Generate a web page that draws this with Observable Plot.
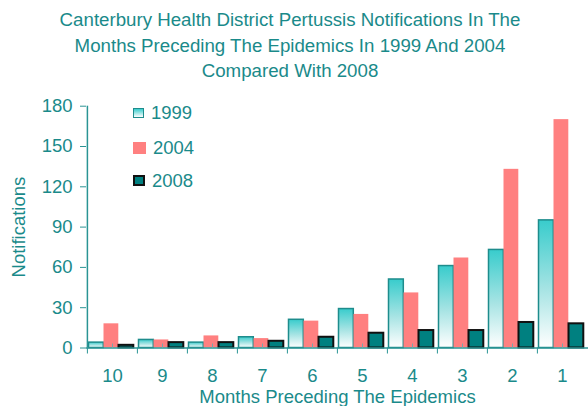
<!DOCTYPE html>
<html><head><meta charset="utf-8">
<script src="https://cdn.jsdelivr.net/npm/d3@7"></script>
<script src="https://cdn.jsdelivr.net/npm/@observablehq/plot@0.6"></script>
<style>
body{margin:0;background:#fff;font-family:"Liberation Sans",Arial,sans-serif;color:#1a8a8a;}
#wrap{position:relative;width:588px;height:406px;overflow:hidden;}
#title{height:88px;box-sizing:border-box;padding-top:7px;text-align:center;font-size:18.7px;line-height:25.7px;width:580px;}
.lg{position:absolute;left:133px;height:34px;display:flex;align-items:center;font-size:18.5px;}
.sw{box-sizing:border-box;margin-right:7px;}
</style>
</head><body>
<div id="wrap">
  <div id="title"></div>
  <div id="chart"></div>
  <div id="legend"></div>
</div>
<script>
const titleLines = ["Canterbury Health District Pertussis Notifications In The", "Months Preceding The Epidemics In 1999 And 2004", "Compared With 2008"];
const months = ["10", "9", "8", "7", "6", "5", "4", "3", "2", "1"];
const series = ["1999", "2004", "2008"];
const v1999 = [4, 6, 4, 8, 21, 29, 51, 61, 73, 95];
const v2004 = [18, 6, 9, 7, 20, 25, 41, 67, 133, 170];
const v2008 = [2, 4, 4, 5, 8, 11, 13, 13, 19, 18];
const yTicks = [0, 30, 60, 90, 120, 150, 180];
const xLabel = "Months Preceding The Epidemics";
const yLabel = "Notifications";

const teal = "#1a8a8a";
const axisColor = "#2a9494";

document.getElementById("title").innerHTML = titleLines.map(t => `<div>${t}</div>`).join("");

const rows = months.map((m, i) => ({month: m, v1999: v1999[i], v2004: v2004[i], v2008: v2008[i]}));

const W = 588, ML = 86, MR = 0;
const bw = (W - ML - MR) / months.length;
const barW = 15;
function insets(i) {
  const left = 1.5 + i * barW;
  return {insetLeft: left, insetRight: bw - left - barW};
}

const defs = () => {
  const d = d3.create("svg:defs");
  const g = d.append("linearGradient").attr("id", "g1999").attr("x1", 0).attr("y1", 0).attr("x2", 0).attr("y2", 1);
  g.append("stop").attr("offset", "0%").attr("stop-color", "#38cccc");
  g.append("stop").attr("offset", "55%").attr("stop-color", "#a8e4e4");
  g.append("stop").attr("offset", "100%").attr("stop-color", "#ffffff");
  return d.node();
};

const chart = Plot.plot({
  width: W,
  height: 318,
  marginLeft: ML,
  marginRight: MR,
  marginTop: 17.7,
  marginBottom: 58.5,
  style: {fontFamily: "'Liberation Sans', Arial, sans-serif", color: teal, background: "#fff"},
  x: {domain: months, padding: 0},
  y: {domain: [0, 180]},
  marks: [
    defs,
    Plot.barY(rows, {x: "month", y: "v1999", fill: "url(#g1999)", stroke: "#1e8c8c", strokeWidth: 1.5, ...insets(0)}),
    Plot.barY(rows, {x: "month", y: "v2004", fill: "#ff8080", ...insets(1)}),
    Plot.barY(rows, {x: "month", y: "v2008", fill: "#008080", stroke: "#111", strokeWidth: 2, ...insets(2)}),
    Plot.ruleY([0], {stroke: axisColor, strokeWidth: 1.5}),
    Plot.ruleX([months[0]], {x: d => d, y1: 0, y2: 180, dx: -bw / 2, stroke: axisColor, strokeWidth: 1.5}),
    Plot.axisY({ticks: yTicks, tickSize: 6, tickPadding: 8, fontSize: 18.5, stroke: axisColor, fill: teal,
      label: yLabel, labelAnchor: "center", labelArrow: "none", labelOffset: 75}),
    Plot.axisX({tickSize: 6, tickFormat: () => "", dx: -bw / 2, stroke: axisColor, label: null}),
    Plot.axisX({tickSize: -4, tickFormat: () => "", stroke: "#7aa8a8", label: null}),
    Plot.axisX({tickSize: 0, tickPadding: 21, fontSize: 18.5, fill: teal, label: xLabel, labelAnchor: "center", labelArrow: "none", labelOffset: 55})
  ]
});
document.getElementById("chart").appendChild(chart);

const legendStyles = [
  {top: 96.3, w: 11, h: 10, css: "background:linear-gradient(#38cccc,#ffffff);border:1.5px solid #1e8c8c;"},
  {top: 131.3, w: 13, h: 12, css: "background:#ff8080;"},
  {top: 163.7, w: 12, h: 11, css: "background:#008080;border:2px solid #111;"}
];
const lg = document.getElementById("legend");
series.forEach((s, i) => {
  const st = legendStyles[i];
  const e = document.createElement("div");
  e.className = "lg";
  e.style.top = st.top + "px";
  e.innerHTML = `<div class="sw" style="width:${st.w}px;height:${st.h}px;${st.css}"></div><span>${s}</span>`;
  lg.appendChild(e);
});
</script>
</body></html>
